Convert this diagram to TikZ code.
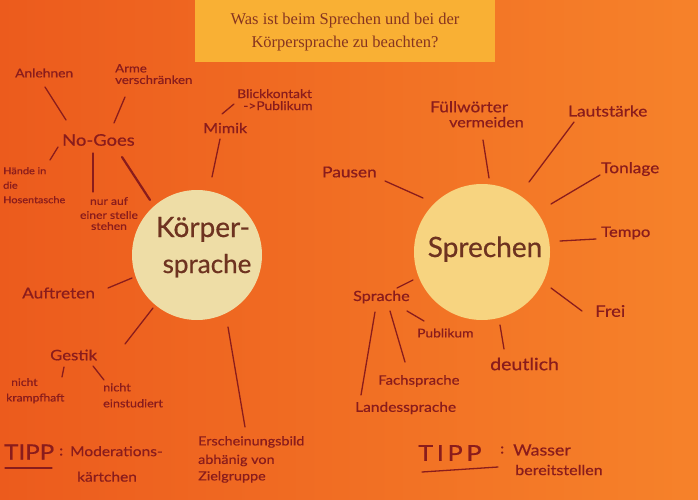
\documentclass[tikz,border=0pt]{standalone}
\usepackage{fontspec}
\setmainfont{Liberation Serif}
\newfontfamily\hand[FakeStretch=1.15,FakeBold=0.6]{Lato}
\newfontfamily\handbig[FakeBold=0.6]{Lato}
\newcommand\hsz[1]{\fontsize{#1}{#1}\selectfont}
\definecolor{ink}{HTML}{8A1C1C}
\definecolor{inkb}{HTML}{6E3320}
\definecolor{bgl}{HTML}{EC5B1D}
\definecolor{bgr}{HTML}{F6822A}
\definecolor{head}{HTML}{F9B034}
\definecolor{headtxt}{HTML}{873520}
\definecolor{pale}{HTML}{EEDDA6}
\definecolor{sun}{HTML}{F7D480}
\tikzset{
  lab/.style={text=ink, inner sep=0pt, font=\hand},
  conn/.style={draw=ink, line width=1.3pt, line cap=round},
  thickconn/.style={draw=ink, line width=2.2pt, line cap=round},
  hub/.style={circle, inner sep=0pt},
}
\begin{document}
\begin{tikzpicture}[x=1pt,y=-1pt]
\useasboundingbox (0,0) rectangle (698,500);
\shade[left color=bgl, right color=bgr] (0,0) rectangle (698,500);
% header
\node[fill=head, minimum width=300pt, minimum height=62pt, anchor=north west, inner sep=0pt] (headbox) at (195,0) {};
\node[text=headtxt, align=center, font=\fontsize{16.5}{23}\selectfont] (title) at (345,32) {Was ist beim Sprechen und bei der\\Körpersprache zu beachten?};

% circles
\node[hub, fill=pale, minimum size=130pt] (kc) at (197,255) {};
\node[hub, fill=sun, minimum size=136pt] (sc) at (482,252) {};
\node[text=inkb, inner sep=0pt, font=\handbig\hsz{28}, anchor=base] (koerper) at (203,237) {Körper-};
\node[text=inkb, inner sep=0pt, font=\handbig\hsz{26}, anchor=base] (sprachek) at (207,273) {sprache};
\node[text=inkb, inner sep=0pt, font=\handbig\hsz{28}, anchor=base] (sprechen) at (485,257) {Sprechen};

% left labels
\node[lab, font=\hand\hsz{12}, anchor=west] (anlehnen) at (15,73) {Anlehnen};
\node[lab, font=\hand\hsz{11.5}, anchor=north west, align=left] (arme) at (115,64) {Arme\\[0pt]verschränken};
\node[lab, font=\hand\hsz{16}, anchor=west] (nogoes) at (62,140) {No-Goes};
\node[lab, font=\hand\hsz{9.5}, anchor=north west, align=left] (haende) at (3,167) {Hände in\\[5pt]die\\[5pt]Hosentasche};
\node[lab, font=\hand\hsz{10.5}, anchor=north, align=center] (nurauf) at (109,197) {nur auf\\[3.5pt]einer stelle\\[0.5pt]stehen};
\node[lab, font=\hand\hsz{14}, anchor=west] (mimik) at (203,128) {Mimik};
\node[lab, font=\hand\hsz{12}, anchor=north west, align=left] (blick) at (237,89) {Blickkontakt\\[0pt]\hspace*{6pt}->Publikum};
\node[lab, font=\hand\hsz{15}, anchor=west] (auftreten) at (22,293) {Auftreten};
\node[lab, font=\hand\hsz{14.5}, anchor=west] (gestik) at (50,355) {Gestik};
\node[lab, font=\hand\hsz{10.5}, anchor=north west, align=left] (krampf) at (6,378) {\hspace*{5pt}nicht\\[5pt]krampfhaft};
\node[lab, font=\hand\hsz{11}, anchor=north west, align=left] (einstud) at (103,383) {nicht\\[5pt]einstudiert};
\node[lab, font=\hand\hsz{12.5}, anchor=north west, align=left] (erschein) at (198,436) {Erscheinungsbild\\[6pt]abhänig von\\[4pt]Zielgruppe};
\node[lab, font=\hand\hsz{21}, anchor=west] (tipp1) at (4,452) {TIPP};
\node[lab, font=\hand\hsz{14}, anchor=west] (colon1) at (59,452) {:};
\node[lab, font=\hand\hsz{13.5}, anchor=north west, align=left] (moder) at (70,446) {Moderations-\\[12pt]\hspace*{7pt}kärtchen};

% right labels
\node[lab, font=\hand\hsz{15}, anchor=west] (pausen) at (322,172) {Pausen};
\node[lab, font=\hand\hsz{15}, anchor=north west, align=left] (fuell) at (430,101) {Füllwörter\\[0pt]\hspace*{19pt}\hsz{14}vermeiden};
\node[lab, font=\hand\hsz{15}, anchor=west] (laut) at (568,111) {Lautstärke};
\node[lab, font=\hand\hsz{15}, anchor=west] (tonlage) at (601,169) {Tonlage};
\node[lab, font=\hand\hsz{14.5}, anchor=west] (tempo) at (601,233) {Tempo};
\node[lab, font=\hand\hsz{16}, anchor=west] (frei) at (595,311) {Frei};
\node[lab, font=\hand\hsz{17}, anchor=west] (deutlich) at (490,364) {deutlich};
\node[lab, font=\hand\hsz{14}, anchor=west] (sprache) at (353,297) {Sprache};
\node[lab, font=\hand\hsz{12}, anchor=west] (publikum) at (417,333) {Publikum};
\node[lab, font=\hand\hsz{13}, anchor=west] (fach) at (378,381) {Fachsprache};
\node[lab, font=\hand\hsz{13.5}, anchor=west] (landes) at (355,408) {Landessprache};
\node[lab, font=\hand\hsz{22}, anchor=west] (tipp2) at (418,453) {T\,I\,P\,P};
\node[lab, font=\hand\hsz{14}, anchor=west] (colon2) at (500,450) {:};
\node[lab, font=\hand\hsz{15.5}, anchor=west] (wasser) at (513,450) {Wasser};
\node[lab, font=\hand\hsz{14}, anchor=west] (bereit) at (515,470) {bereitstellen};

% connector end points
\coordinate (a1) at (45,87);   \coordinate (a2) at (66,120);
\coordinate (b1) at (125,97);  \coordinate (b2) at (114,123);
\coordinate (c1) at (58,147);  \coordinate (c2) at (50,160);
\coordinate (d1) at (93,153);  \coordinate (d2) at (93,192);
\coordinate (e1) at (122,157); \coordinate (e2) at (150,200);
\coordinate (f1) at (222,114); \coordinate (f2) at (234,104);
\coordinate (g1) at (220,139); \coordinate (g2) at (212,177);
\coordinate (h1) at (108,288); \coordinate (h2) at (132,278);
\coordinate (i1) at (153,308); \coordinate (i2) at (125,344);
\coordinate (j1) at (64,367);  \coordinate (j2) at (62,377);
\coordinate (k1) at (93,366);  \coordinate (k2) at (104,380);
\coordinate (l1) at (228,327); \coordinate (l2) at (245,427);
\coordinate (u1) at (5,468);   \coordinate (u2) at (52,468);
\coordinate (m1) at (385,181); \coordinate (m2) at (423,198);
\coordinate (n1) at (483,140); \coordinate (n2) at (489,178);
\coordinate (o1) at (574,122); \coordinate (o2) at (529,182);
\coordinate (p1) at (600,175); \coordinate (p2) at (551,204);
\coordinate (q1) at (560,241); \coordinate (q2) at (596,239);
\coordinate (r1) at (551,288); \coordinate (r2) at (582,311);
\coordinate (s1) at (500,325); \coordinate (s2) at (504,349);
\coordinate (t1) at (397,288); \coordinate (t2) at (413,280);
\coordinate (v1) at (407,311); \coordinate (v2) at (424,321);
\coordinate (w1) at (390,311); \coordinate (w2) at (405,362);
\coordinate (x1) at (375,312); \coordinate (x2) at (361,395);
\coordinate (y1) at (422,472); \coordinate (y2) at (498,467);

\foreach \p/\q in {a1/a2,b1/b2,c1/c2,d1/d2,f1/f2,g1/g2,h1/h2,i1/i2,j1/j2,k1/k2,l1/l2,u1/u2,
                   m1/m2,n1/n2,o1/o2,p1/p2,q1/q2,r1/r2,s1/s2,t1/t2,v1/v2,w1/w2,x1/x2,y1/y2}
  \draw[conn] (\p) -- (\q);
\draw[thickconn] (e1) -- (e2);
\end{tikzpicture}
\end{document}
